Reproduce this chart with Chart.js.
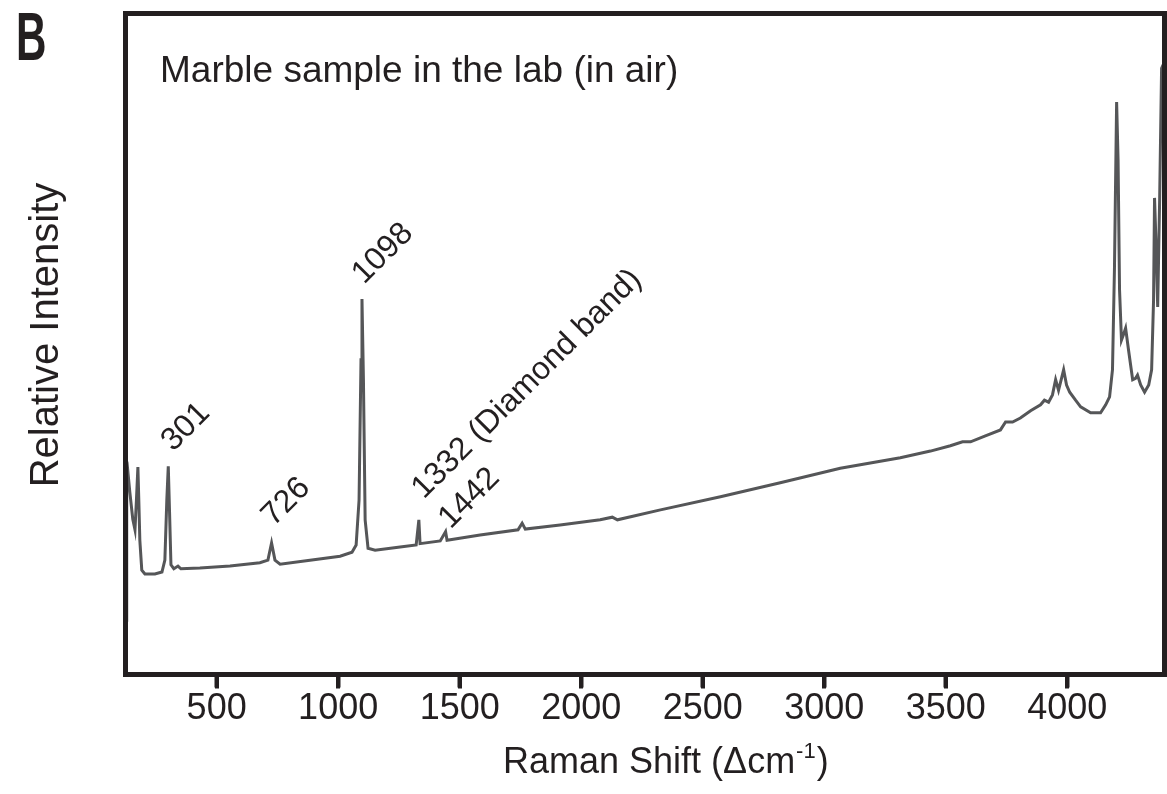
<!DOCTYPE html>
<html>
<head>
<meta charset="utf-8">
<title>Raman spectrum - marble</title>
<script src="https://cdn.jsdelivr.net/npm/chart.js@4"></script>
<style>
    html, body { margin: 0; padding: 0; background: #ffffff; }
    #wrap { width: 1167px; height: 794px; }
</style>
</head>
<body>
<div id="wrap"><canvas id="chart" width="1167" height="794"></canvas></div>
<script>
// Raman shift (cm-1) de cada punto del espectro
const shiftValues = [
    128, 130, 135, 143, 155, 164, 170, 176, 180, 184, 192, 205, 246, 275, 287, 295, 301, 306, 312, 324, 341, 353,
    431, 555, 678, 711, 726, 740, 761, 884, 1008, 1057, 1074, 1086, 1094, 1098, 1104, 1111, 1123, 1152,
    1255, 1321, 1332, 1337, 1420, 1442, 1448, 1584, 1740, 1757, 1770, 1913, 2078, 2128, 2149, 2326,
    2573, 2819, 3066, 3313, 3437, 3519, 3569, 3602, 3663, 3725, 3746, 3775, 3807, 3849, 3890, 3906,
    3923, 3939, 3952, 3964, 3977, 3985, 3997, 4010, 4034, 4055, 4096, 4137, 4158, 4174, 4186, 4194,
    4203, 4209, 4215, 4223, 4231, 4240, 4252, 4269, 4281, 4289, 4302, 4318, 4335, 4347, 4355, 4359,
    4366, 4372, 4380, 4388, 4400
];

// Intensidad relativa (unidades arbitrarias, 0-100)
const intensityValues = [
    8.2, 29.5, 30.6, 27.5, 23.5, 21.9, 26.4, 31.4, 26.0, 20.3, 15.8, 15.2, 15.2, 15.5, 17.3, 26.4, 31.5, 24.9, 16.6, 16.0, 16.4, 16.0,
    16.1, 16.4, 16.9, 17.3, 19.9, 17.3, 16.7, 17.3, 17.9, 18.5, 19.6, 26.4, 47.6, 56.8, 44.6, 23.4, 19.1, 18.8,
    19.3, 19.6, 23.4, 19.8, 20.2, 21.6, 20.3, 21.1, 21.9, 22.9, 22.0, 22.6, 23.4, 23.8, 23.4, 24.9,
    26.9, 29.0, 31.2, 32.8, 33.8, 34.6, 35.2, 35.2, 36.1, 37.0, 38.2, 38.2, 38.8, 39.9, 40.8, 41.5,
    41.2, 42.3, 44.6, 43.0, 44.9, 46.1, 43.8, 42.7, 41.5, 40.5, 39.6, 39.6, 40.8, 42.0, 46.1, 61.2,
    86.6, 77.8, 58.2, 50.6, 51.4, 52.4, 49.1, 44.6, 44.8, 45.3, 43.8, 42.7, 43.8, 46.1, 56.7, 72.1,
    64.2, 55.6, 71.8, 91.7, 92.7
];

// Marcas del eje X
const tickValues = [500, 1000, 1500, 2000, 2500, 3000, 3500, 4000];

// Picos etiquetados y su texto
const peakShifts = [301, 726, 1098, 1332, 1442];
const peakLabels = ["301", "726", "1098", "1332 (Diamond band)", "1442"];
// Desplazamiento (px) de cada etiqueta respecto a la cima del pico
const peakOffsets = [[5, -14], [2, -16], [2, -14], [5, -20], [5, -2]];

const ink = "#231f20";
const FONT = "'Liberation Sans', Arial, Helvetica, sans-serif";

// Marco grueso alrededor del área del gráfico
const framePlugin = {
    id: "marco",
    afterDraw(chart) {
        const ctx = chart.ctx;
        const a = chart.chartArea;
        ctx.save();
        ctx.strokeStyle = ink;
        ctx.lineWidth = 5;
        ctx.strokeRect(a.left, a.top, a.right - a.left, a.bottom - a.top);
        ctx.restore();
    }
};

// Marcas cortas bajo el eje X, dibujadas al final de todo
const tickPlugin = {
    id: "marcas",
    afterRender(chart) {
        const ctx = chart.ctx;
        const a = chart.chartArea;
        const xs = chart.scales.x;
        ctx.save();
        ctx.strokeStyle = ink;
        ctx.lineWidth = 4;
        ctx.lineCap = "butt";
        ctx.beginPath();
        tickValues.forEach(v => {
            const px = Math.round(xs.getPixelForValue(v));
            ctx.moveTo(px, a.bottom);
            ctx.lineTo(px, a.bottom + 14);
        });
        ctx.stroke();
        ctx.restore();
    }
};

// Textos: letra del panel, rótulo de la muestra, títulos de ejes y etiquetas de picos
const textPlugin = {
    id: "textos",
    afterDraw(chart) {
        const ctx = chart.ctx;
        const xs = chart.scales.x;
        const ys = chart.scales.y;
        ctx.save();
        ctx.fillStyle = ink;
        ctx.textBaseline = "alphabetic";
        ctx.textAlign = "left";

        // letra del panel (estrecha y en negrita)
        ctx.save();
        ctx.translate(16, 60);
        ctx.scale(0.62, 1);
        ctx.font = "bold 68px " + FONT;
        ctx.fillText("B", 0, 0);
        ctx.restore();

        // rótulo de la muestra
        ctx.font = "37px " + FONT;
        ctx.fillText("Marble sample in the lab (in air)", 160, 82);

        // título del eje X con superíndice
        ctx.font = "36px " + FONT;
        let x = 503;
        const y = 773;
        const main = "Raman Shift (\u0394cm";
        ctx.fillText(main, x, y);
        x += ctx.measureText(main).width;
        ctx.font = "22px " + FONT;
        ctx.fillText("-1", x + 1, y - 15);
        x += ctx.measureText("-1").width + 2;
        ctx.font = "36px " + FONT;
        ctx.fillText(")", x, y);

        // título del eje Y
        ctx.save();
        ctx.translate(58, 335);
        ctx.rotate(-Math.PI / 2);
        ctx.textAlign = "center";
        ctx.font = "40px " + FONT;
        ctx.fillText("Relative Intensity", 0, 0);
        ctx.restore();

        // etiquetas de los picos, giradas 45 grados
        ctx.font = "32px " + FONT;
        peakShifts.forEach((shift, i) => {
            const idx = shiftValues.indexOf(shift);
            const px = xs.getPixelForValue(shift);
            const py = ys.getPixelForValue(intensityValues[idx]);
            ctx.save();
            ctx.translate(px + peakOffsets[i][0], py + peakOffsets[i][1]);
            ctx.rotate(-Math.PI / 4);
            ctx.fillText(peakLabels[i], 0, 0);
            ctx.restore();
        });
        ctx.restore();
    }
};

const points = shiftValues.map((s, i) => ({ x: s, y: intensityValues[i] }));

new Chart(document.getElementById("chart"), {
    type: "line",
    data: {
        datasets: [{
            data: points,
            borderColor: "#555658",
            borderWidth: 3,
            pointRadius: 0,
            tension: 0,
            fill: false
        }]
    },
    options: {
        responsive: false,
        animation: false,
        events: [],
        layout: { padding: { left: 125.5, top: 13.5, right: 2.5, bottom: 0 } },
        plugins: {
            legend: { display: false },
            tooltip: { enabled: false },
            title: { display: false }
        },
        scales: {
            x: {
                type: "linear",
                min: 125,
                max: 4400,
                border: { display: false },
                grid: {
                    drawOnChartArea: false,
                    drawTicks: true,
                    tickLength: 13,
                    tickWidth: 4,
                    tickColor: ink
                },
                ticks: {
                    color: ink,
                    font: { family: FONT, size: 36 },
                    padding: 0,
                    maxRotation: 0,
                    autoSkip: false,
                    callback: (value) => String(value)
                },
                afterBuildTicks: (scale) => {
                    scale.ticks = tickValues.map(v => ({ value: v }));
                },
                afterFit: (scale) => {
                    scale.height = 119.5;
                }
            },
            y: {
                display: false,
                min: 0,
                max: 100
            }
        }
    },
    plugins: [framePlugin, textPlugin, tickPlugin]
});
</script>
</body>
</html>
